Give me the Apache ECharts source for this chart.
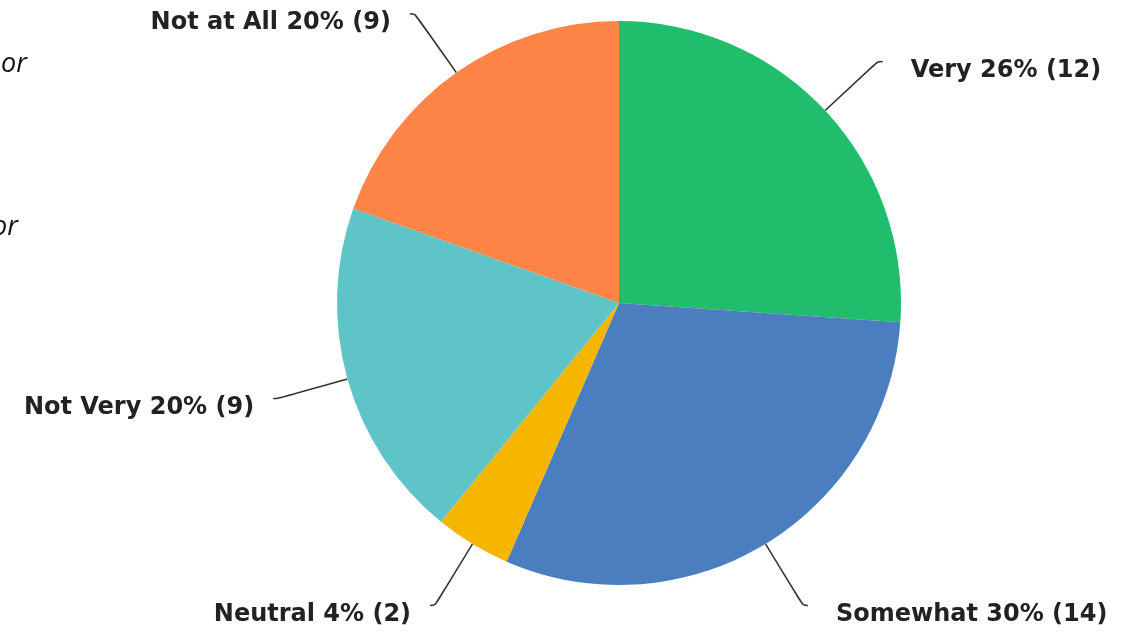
<!DOCTYPE html>
<html lang="en">
<head>
    <meta charset="UTF-8">
    <title>Pie</title>
    <script src="https://cdn.jsdelivr.net/npm/echarts@6/dist/echarts.min.js"></script>
    <style>
        html, body { margin: 0; padding: 0; background: #fff; }
    </style>
</head>
<body>
    <div id="ec" style="width:1133px;height:634px"></div>
</body>
<script>
    var names = ['Very', 'Somewhat', 'Neutral', 'Not Very', 'Not at All']
    var counts = [12, 14, 2, 9, 9]
    var colors = ['#1fbd6c', '#4a7ebe', '#f6b600', '#5ec4c8', '#ff8447']

    var mychart = echarts.init(document.getElementById('ec'))
    var pieData = names.map(function (n, i) {
        return { name: n, value: counts[i], itemStyle: { color: colors[i] } }
    })
    var options = {
        backgroundColor: '#fff',
        animation: false,
        graphic: [
            { type: 'text', left: 1, top: 51, style: { text: 'or', font: 'italic 27px "Open Sans"', fill: '#111' } },
            { type: 'text', left: -8, top: 214, style: { text: 'or', font: 'italic 27px "Open Sans"', fill: '#111' } }
        ],
        series: [{
            type: 'pie',
            center: [619, 303],
            radius: 282,
            startAngle: 90,
            clockwise: true,
            avoidLabelOverlap: false,
            label: {
                show: true,
                position: 'outside',
                formatter: function (p) {
                    return p.name + ' ' + Math.round(p.percent) + '% (' + p.value + ')'
                },
                fontFamily: 'DejaVu Sans',
                fontWeight: 'bold',
                fontSize: 24,
                color: '#222',
                distanceToLabelLine: 16
            },
            labelLine: {
                show: true,
                length: 72,
                length2: 5,
                smooth: 0.35,
                lineStyle: { color: '#333', width: 1.5 }
            },
            labelLayout: function (p) {
                // right-side labels sit a little further out in the original
                var right = p.labelRect.x > 619
                return { dx: right ? 12 : -3, dy: 9 }
            },
            itemStyle: { borderWidth: 0 },
            data: pieData
        }]
    }
    mychart.setOption(options)
</script>
</html>
